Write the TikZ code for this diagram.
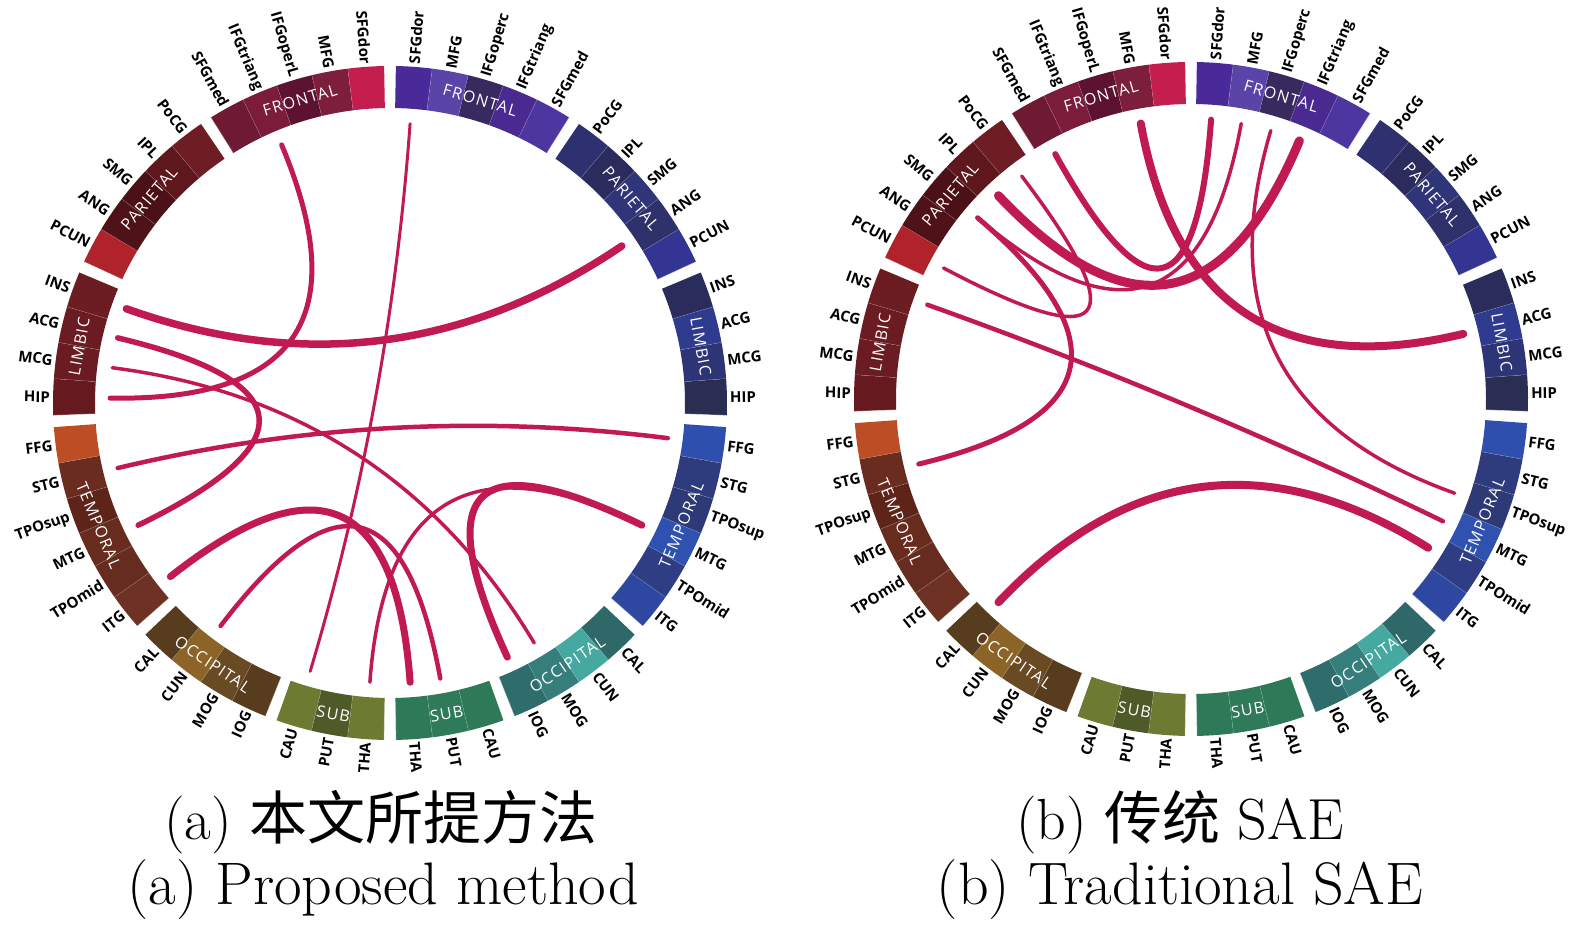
\documentclass[tikz,border=0pt]{standalone}
\usepackage{fontspec}
\usetikzlibrary{calc}
\newfontfamily\lblfont{Open Sans}
\newfontfamily\cjkfont{Noto Sans CJK SC}
\definecolor{chordred}{HTML}{C01A50}

\def\ringin{295}
\def\ringout{337}
\def\ringmid{316}
\def\labr{340}
\def\chordr{280}

% n/group/left label/right label/left colour/right colour
\def\regionlist{0/0/SFGdor/SFGdor/C41E4F/4A2A98, 1/0/MFG/MFG/7D1E3C/5A44A8,
  2/0/IFGoperL/IFGoperc/5C1230/38295E, 3/0/IFGtriang/IFGtriang/7A1C3A/4A2A90,
  4/0/SFGmed/SFGmed/6E1A33/4E36A0, 5/1/PoCG/PoCG/6E1D24/2E3070,
  6/1/IPL/IPL/5E171C/2B2B5E, 7/1/SMG/SMG/4C1116/30357A, 8/1/ANG/ANG/4E1218/2E316A,
  9/1/PCUN/PCUN/B0232A/343592, 10/2/INS/INS/6C1D22/2A2D5C, 11/2/ACG/ACG/6A1C22/2E3B8E,
  12/2/MCG/MCG/6A1C22/2E3576, 13/2/HIP/HIP/661A1F/2A2E52, 14/3/FFG/FFG/BC4D24/2E4FAE,
  15/3/STG/STG/6A2C1F/2E3C7E, 16/3/TPOsup/TPOsup/5E2419/2E3A76, 17/3/MTG/MTG/682C1F/2F52B0,
  18/3/TPOmid/TPOmid/652C1F/2E3D84, 19/3/ITG/ITG/6E3224/2E48A2, 20/4/CAL/CAL/573C1E/2F6868,
  21/4/CUN/CUN/8C6427/45A9A1, 22/4/MOG/MOG/6A4A22/357E7B, 23/4/IOG/IOG/573C1E/2F6C6C,
  24/5/CAU/CAU/6C7A32/2F7A56, 25/5/PUT/PUT/4F5A29/2F7A58, 26/5/THA/THA/6C7A32/2E7A58}

% ring of regions, names #1-L-xxx and #1-R-xxx
\newcommand\brainring[1]{%
  \coordinate (#1-O) at (0,0);
  \foreach \n/\j/\ll/\rl/\lc/\rc in \regionlist {%
    \pgfmathsetmacro\angA{1+2*\j+6.222*\n}%
    \pgfmathsetmacro\angB{\angA+6.222}%
    \pgfmathsetmacro\tr{90-\angA-3.111}%
    \pgfmathsetmacro\tl{90+\angA+3.111}%
    \pgfmathsetmacro\ra{90-\angA}\pgfmathsetmacro\rb{90-\angB}%
    \pgfmathsetmacro\la{90+\angA}\pgfmathsetmacro\lb{90+\angB}%
    \definecolor{lcol}{HTML}{\lc}\definecolor{rcol}{HTML}{\rc}%
    \fill[rcol] (\ra:\ringin) arc[start angle=\ra, end angle=\rb, radius=\ringin]
      -- (\rb:\ringout) arc[start angle=\rb, end angle=\ra, radius=\ringout] -- cycle;
    \fill[lcol] (\la:\ringin) arc[start angle=\la, end angle=\lb, radius=\ringin]
      -- (\lb:\ringout) arc[start angle=\lb, end angle=\la, radius=\ringout] -- cycle;
    \draw[divider] (\rb:\ringin) -- (\rb:\ringout) (\lb:\ringin) -- (\lb:\ringout);
    \node[lbl, anchor=west, rotate=\tr] (#1-R-\rl-t) at (\tr:\labr) {\rl};
    \node[lbl, anchor=east, rotate=\tl-180] (#1-L-\ll-t) at (\tl:\labr) {\ll};
    \coordinate (#1-R-\rl) at (\tr:\chordr);
    \coordinate (#1-L-\ll) at (\tl:\chordr);
  }%
  \foreach \g/\pc/\rotr/\rotl in {FRONTAL/16.56/-16.56/16.56, PARIETAL/49.67/-49.67/49.67,
      LIMBIC/79.67/-79.67/79.67, TEMPORAL/112.78/67.22/-67.22,
      OCCIPITAL/145.89/34.11/-34.11, SUB/169.67/10.33/-10.33} {%
    \node[grp, rotate=\rotr] (#1-R-\g) at (90-\pc:\ringmid) {\g};
    \node[grp, rotate=\rotl] (#1-L-\g) at (90+\pc:\ringmid) {\g};
  }%
}

% chord between two regions of panel #2
\newcommand\chord[4][4]{%
  \draw[chord, line width=#1pt] (#2-#3) .. controls ($(#2-#3)!.667!(#2-O)$)
    and ($(#2-#4)!.667!(#2-O)$) .. (#2-#4);}

\begin{document}
\begin{tikzpicture}[x=1pt, y=1pt,
  lbl/.style={font=\lblfont\bfseries\fontsize{15}{15}\selectfont, inner sep=0pt},
  grp/.style={font=\lblfont\fontsize{16}{16}\selectfont\addfontfeature{LetterSpace=8},
    text=white, inner sep=0pt},
  divider/.style={draw=white, opacity=.45, line width=.7pt},
  chord/.style={draw=chordred, line cap=round},
  caption/.style={font=\fontsize{60}{64}\selectfont, anchor=base, inner sep=0pt},
  captioncn/.style={caption, font=\fontsize{58}{62}\selectfont}]
  \useasboundingbox (0,0) rectangle (1575,925);

  % (a) proposed method
  \begin{scope}[shift={(390,522)}]
    \brainring{a}
    \chord[5]{a}{L-IFGtriang}{L-HIP}
    \chord[7.5]{a}{L-INS}{R-ANG}
    \chord[3]{a}{R-SFGdor}{L-CAU}
    \chord[5.5]{a}{L-ACG}{L-MTG}
    \chord[3.5]{a}{L-MCG}{R-MOG}
    \chord[4.5]{a}{L-STG}{R-FFG}
    \chord[7]{a}{L-ITG}{R-THA}
    \chord[4.5]{a}{L-CUN}{R-PUT}
    \chord[3.5]{a}{L-THA}{R-MTG}
    \chord[7]{a}{R-MTG}{R-IOG}
  \end{scope}

  % (b) traditional SAE
  \begin{scope}[shift={(1191,526)}]
    \brainring{b}
    \chord[8]{b}{L-MFG}{R-ACG}
    \chord[8]{b}{L-CAL}{R-TPOmid}
    \chord[4.5]{b}{L-INS}{R-MTG}
    \chord[5]{b}{L-SMG}{L-STG}
    \chord[3.5]{b}{L-PoCG}{L-PCUN}
    \chord[3.5]{b}{R-IFGoperc}{R-TPOsup}
    \chord[9]{b}{R-IFGtriang}{L-IPL}
    \chord[6]{b}{R-SFGdor}{L-SFGmed}
    \chord[3.5]{b}{R-MFG}{L-SMG}
  \end{scope}

  \node[captioncn] (capa1) at (381,85) {(a) {\cjkfont 本文所提方法}};
  \node[caption] (capa2) at (383,20) {(a) Proposed method};
  \node[captioncn] (capb1) at (1180,85) {(b) {\cjkfont 传统} SAE};
  \node[caption] (capb2) at (1180,20) {(b) Traditional SAE};
\end{tikzpicture}
\end{document}
